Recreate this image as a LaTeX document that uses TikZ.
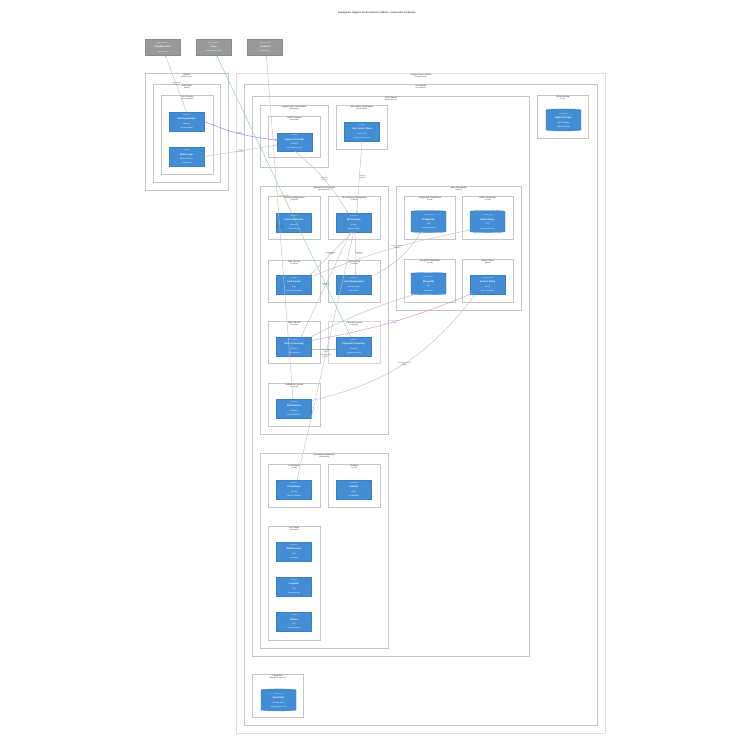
\documentclass[tikz,border=0pt]{standalone}
\usepackage{fontspec}
\setmainfont{Liberation Sans}
\usepackage{tikz}
\usetikzlibrary{shapes.geometric, arrows.meta, calc, positioning}
\definecolor{cfourblue}{HTML}{438DD5}
\definecolor{cfourline}{HTML}{3C7FC0}
\definecolor{extgray}{HTML}{999999}
\definecolor{extline}{HTML}{8A8A8A}
\definecolor{relblue}{HTML}{8080FF}
\definecolor{relgreen}{HTML}{8FCF8F}
\definecolor{relpink}{HTML}{D98FD9}
\newcommand{\stereo}[1]{{\fontsize{4}{4.5}\selectfont «#1»}}
\newcommand{\techtag}[1]{{\fontsize{5.5}{6}\selectfont [#1]}}
\newcommand{\boxdesc}[1]{{\fontsize{5}{5.5}\selectfont #1}}
\newcommand{\zonetype}[1]{{\fontsize{4.5}{5}\selectfont [#1]}}
\tikzstyle{zone} = [rectangle, draw=gray!45, line width=2pt, anchor=north west, inner sep=0pt]
\tikzstyle{zonelabel} = [anchor=north, align=center, font=\fontsize{6}{7.5}\selectfont, text=black!85, inner sep=1.5pt]
\tikzstyle{container} = [rectangle, fill=cfourblue, draw=cfourline, line width=0.6pt, text=white, minimum width=35mm, minimum height=19mm, inner sep=0pt, align=center, font=\fontsize{6.5}{12.5}\selectfont]
\tikzstyle{database} = [cylinder, shape border rotate=90, aspect=0.12, fill=cfourblue, draw=cfourline, line width=0.6pt, text=white, minimum width=35mm, minimum height=22mm, inner sep=0pt, align=center, font=\fontsize{6.5}{12.5}\selectfont]
\tikzstyle{extsys} = [rectangle, fill=extgray, draw=extline, line width=0.6pt, text=white, minimum width=35mm, minimum height=16mm, inner sep=0pt, align=center, font=\fontsize{6}{9.5}\selectfont]
\tikzstyle{rel} = [-{Stealth[length=2mm, width=1.6mm]}, draw=gray!50, line width=1.2pt]
\tikzstyle{rellabel} = [font=\fontsize{4.5}{5}\selectfont, align=center, text=black!70, inner sep=0.5pt]

\begin{document}
\begin{tikzpicture}[x=1mm, y=-1mm, node distance=16mm]
		\useasboundingbox (0,0) rectangle (750,750);
		\fill[white] (0,0) rectangle (750,750);
		\node (title) [font=\fontsize{7}{8}\selectfont] at (377,13) {Deployment Diagram for Ecommerce Platform - Kubernetes Production};
		
		% external systems
		\node (cdn) [extsys] at (162.5,47.5) {\stereo{external\_system}\\\textbf{Cloudflare CDN}\\[1.5mm]\boxdesc{Static assets}};
		\node (stripe) [extsys, right = of cdn] {\stereo{external\_system}\\\textbf{Stripe}\\[1.5mm]\boxdesc{Payment processing}};
		\node (sendgrid) [extsys, right = of stripe] {\stereo{external\_system}\\\textbf{SendGrid}\\[1.5mm]\boxdesc{Email delivery}};
		
		% internet side
		\node (internet) [zone, minimum width=83mm, minimum height=117mm, label={[zonelabel]north:{Internet\\\zonetype{Public Internet}}}] at (145,73) {};
		\node (endusers) [zone, minimum width=67mm, minimum height=98mm, label={[zonelabel]north:{End Users\\\zonetype{Global}}}] at (153,84) {};
		\node (devices) [zone, minimum width=52mm, minimum height=79mm, label={[zonelabel]north:{User Devices\\\zonetype{Browser/Mobile}}}] at (161,95) {};
		\node (webapp) [container] at (186.5,121.5) {\stereo{container}\\\textbf{Web Application}\\\techtag{React}\\\boxdesc{Customer portal}};
		\node (mobileapp) [container, below = of webapp] {\stereo{container}\\\textbf{Mobile App}\\\techtag{React Native}\\\boxdesc{iOS/Android}};
		
		% cloud side
		\node (gcp) [zone, draw=gray!25, minimum width=369mm, minimum height=660mm, label={[zonelabel]north:{Google Cloud Platform\\\zonetype{Cloud Provider}}}] at (236,73) {};
		\node (region) [zone, minimum width=353mm, minimum height=641mm, label={[zonelabel]north:{us-central1\\\zonetype{GCP Region}}}] at (244,84) {};
		\node (gke) [zone, minimum width=277mm, minimum height=560mm, label={[zonelabel]north:{GKE Cluster\\\zonetype{Kubernetes 1.27}}}] at (252,96) {};
		\node (storage) [zone, minimum width=51mm, minimum height=43mm, label={[zonelabel]north:{Cloud Storage\\\zonetype{GCS}}}] at (537,95) {};
		\node (bucket) [database] at (563.5,120.5) {\stereo{storage\_db}\\\textbf{Object Storage}\\\techtag{GCS Bucket}\\\boxdesc{Media \& backups}};
		\node (cloudsql) [zone, minimum width=51mm, minimum height=43mm, label={[zonelabel]north:{Cloud SQL\\\zonetype{Managed PostgreSQL}}}] at (252,674) {};
		\node (clouddb) [database] at (278.5,700.5) {\stereo{container\_db}\\\textbf{Cloud SQL}\\\techtag{PostgreSQL}\\\boxdesc{Managed backup DB}};
		
		\node (ingressns) [zone, minimum width=68mm, minimum height=62mm, label={[zonelabel]north:{ingress-nginx namespace\\\zonetype{Namespace}}}] at (260,105) {};
		\node (nginx) [zone, minimum width=52mm, minimum height=41mm, label={[zonelabel]north:{NGINX Ingress\\\zonetype{DaemonSet}}}] at (268,116) {};
		\node (ingressctl) [container, minimum height=18mm] at (294.5,142) {\stereo{container}\\\textbf{Ingress Controller}\\\techtag{NGINX}\\\boxdesc{Load balancing, SSL}};
		\node (istions) [zone, minimum width=51mm, minimum height=44mm, label={[zonelabel]north:{istio-system namespace\\\zonetype{Service Mesh}}}] at (336,105) {};
		\node (istioctl) [container] at (362,131.5) {\stereo{container}\\\textbf{Istio Control Plane}\\\techtag{Istio 1.18}\\\boxdesc{Service mesh control}};
		
		% application namespace
		\node (appns) [zone, minimum width=128mm, minimum height=248mm, label={[zonelabel]north:{application namespace\\\zonetype{Main Application}}}] at (260,186) {};
		\node (frontenddep) [zone, minimum width=52mm, minimum height=43mm, label={[zonelabel]north:{Frontend Deployment\\\zonetype{3 replicas}}}] at (268,196) {};
		\node (apigwdep) [zone, minimum width=52mm, minimum height=43mm, label={[zonelabel]north:{API Gateway Deployment\\\zonetype{3 replicas}}}] at (328,196) {};
		\node (authdep) [zone, minimum width=52mm, minimum height=42mm, label={[zonelabel]north:{Auth Service\\\zonetype{3 replicas}}}] at (268,260) {};
		\node (userdep) [zone, minimum width=52mm, minimum height=42mm, label={[zonelabel]north:{User Service\\\zonetype{3 replicas}}}] at (328,260) {};
		\node (orderdep) [zone, minimum width=52mm, minimum height=42mm, label={[zonelabel]north:{Order Service\\\zonetype{5 replicas}}}] at (268,321) {};
		\node (paydep) [zone, draw=gray!30, minimum width=52mm, minimum height=42mm, label={[zonelabel]north:{Payment Service\\\zonetype{3 replicas}}}] at (328,321) {};
		\node (notifdep) [zone, minimum width=52mm, minimum height=43mm, label={[zonelabel]north:{Notification Service\\\zonetype{2 replicas}}}] at (268,383) {};
		\node (frontend) [container] at (294,222.5) {\stereo{container}\\\textbf{Frontend Service}\\\techtag{Next.js}\\\boxdesc{SSR web app}};
		\node (apigw) [container, right = 24.5mm of frontend] {\stereo{container}\\\textbf{API Gateway}\\\techtag{Kong}\\\boxdesc{Request routing}};
		\node (auth) [container] at (294,284.5) {\stereo{container}\\\textbf{Auth Service}\\\techtag{Go}\\\boxdesc{JWT authentication}};
		\node (user) [container, right = 24.5mm of auth] {\stereo{container}\\\textbf{User Management}\\\techtag{Java/Spring}\\\boxdesc{User profiles}};
		\node (order) [container] at (294,346.5) {\stereo{container}\\\textbf{Order Processing}\\\techtag{Python}\\\boxdesc{Order lifecycle}};
		\node (payment) [container, right = 24.5mm of order] {\stereo{container}\\\textbf{Payment Processing}\\\techtag{Node.js}\\\boxdesc{Payment handling}};
		\node (notif) [container] at (294,408.5) {\stereo{container}\\\textbf{Notifications}\\\techtag{Python}\\\boxdesc{Email/SMS/Push}};
		
		% data namespace
		\node (datans) [zone, minimum width=125mm, minimum height=124mm, label={[zonelabel]north:{data namespace\\\zonetype{Stateful}}}] at (396,186) {};
		\node (pgset) [zone, minimum width=51mm, minimum height=43mm, label={[zonelabel]north:{PostgreSQL StatefulSet\\\zonetype{3 pods}}}] at (404,196) {};
		\node (redisset) [zone, minimum width=51mm, minimum height=43mm, label={[zonelabel]north:{Redis StatefulSet\\\zonetype{3 pods}}}] at (462,196) {};
		\node (mongoset) [zone, minimum width=51mm, minimum height=43mm, label={[zonelabel]north:{MongoDB StatefulSet\\\zonetype{3 pods}}}] at (404,259) {};
		\node (kafkaset) [zone, minimum width=51mm, minimum height=43mm, label={[zonelabel]north:{Kafka Cluster\\\zonetype{Strimzi}}}] at (462,259) {};
		\node (postgres) [database] at (428.5,222) {\stereo{container\_db}\\\textbf{PostgreSQL}\\\techtag{v15}\\\boxdesc{Primary database}};
		\node (redis) [database] at (487.5,222) {\stereo{container\_db}\\\textbf{Redis Cache}\\\techtag{v7}\\\boxdesc{Sessions \& cache}};
		\node (mongo) [database] at (428.5,284) {\stereo{container\_db}\\\textbf{MongoDB}\\\techtag{v6}\\\boxdesc{Documents}};
		\node (kafka) [container] at (487.5,284.5) {\stereo{container\_queue}\\\textbf{Apache Kafka}\\\techtag{v3.5}\\\boxdesc{Event streaming}};
		
		% monitoring namespace
		\node (monns) [zone, minimum width=128mm, minimum height=195mm, label={[zonelabel]north:{monitoring namespace\\\zonetype{Observability}}}] at (260,453) {};
		\node (promdep) [zone, minimum width=52mm, minimum height=43mm, label={[zonelabel]north:{Prometheus\\\zonetype{2 pods}}}] at (268,464) {};
		\node (grafdep) [zone, minimum width=52mm, minimum height=43mm, label={[zonelabel]north:{Grafana\\\zonetype{1 pod}}}] at (328,464) {};
		\node (elkdep) [zone, minimum width=52mm, minimum height=114mm, label={[zonelabel]north:{ELK Stack\\\zonetype{StatefulSet}}}] at (268,526) {};
		\node (prom) [container] at (294,489.5) {\stereo{container}\\\textbf{Prometheus}\\\techtag{v2.45}\\\boxdesc{Metrics collection}};
		\node (grafana) [container, right = 24.5mm of prom] {\stereo{container}\\\textbf{Grafana}\\\techtag{v10}\\\boxdesc{Dashboards}};
		\node (es) [container] at (294,551.5) {\stereo{container}\\\textbf{Elasticsearch}\\\techtag{v8}\\\boxdesc{Log storage}};
		\node (logstash) [container, below = of es] {\stereo{container}\\\textbf{Logstash}\\\techtag{v8}\\\boxdesc{Log processing}};
		\node (kibana) [container, below = of logstash] {\stereo{container}\\\textbf{Kibana}\\\techtag{v8}\\\boxdesc{Log visualization}};
		
		% relations
		\draw [rel, draw=relblue] (webapp.east) to[bend right=8] node[rellabel, text=relblue!80!black] {Uses\\{[HTTPS]}} ($(ingressctl.west)+(0,-2)$);
		\draw [rel] (mobileapp.east) -- node[rellabel] {Uses\\{[HTTPS]}} ($(ingressctl.west)+(0,3)$);
		\draw [rel] (webapp.north) -- node[rellabel] {Loads assets\\{[HTTPS]}} ($(cdn.south)+(3,0)$);
		\draw [rel] (ingressctl.south) to[bend left=10] node[rellabel] {Routes to\\{[HTTPS]}} ($(apigw.north)+(-6,0)$);
		\draw [rel] (istioctl.south) -- node[rellabel, right] {Secures\\{[mTLS]}} ($(apigw.north)+(3,0)$);
		\draw [rel] ($(apigw.south)+(-1.5,0)$) -- node[rellabel] {Authenticates\\{[gRPC]}} ($(auth.north east)+(-1.5,0)$);
		\draw [rel] ($(apigw.south)+(1.5,0)$) -- node[rellabel, right] {Routes to\\{[HTTP]}} ($(user.north)+(2,0)$);
		\draw [rel] ($(apigw.south)+(-3,0)$) -- node[rellabel] {Routes to\\{[HTTP]}} ($(order.north)+(7,0)$);
		\draw [rel] ($(auth.east)+(0,-8)$) to[bend left=5] node[rellabel, pos=0.55] {Caches sessions\\{[Redis]}} ($(redis.center)+(-17.5,8)$);
		\draw [rel] ($(user.east)+(0,-8)$) to[bend right=15] ($(postgres.south)+(-8,0)$);
		\draw [rel] ($(order.east)+(0,-10)$) to[bend left=5] ($(mongo.south)+(-15,0)$);
		\draw [rel, draw=relpink] ($(order.east)+(0,-6)$) to[bend right=6] node[rellabel, text=relpink!80!black] {Publishes events\\{[Kafka]}} ($(kafka.south west)+(3,-1)$);
		\draw [rel] ($(order.east)+(0,2.5)$) -- node[rellabel, below, pos=0.6] {Processes\\{[gRPC]}} ($(payment.west)+(0,2.5)$);
		\draw [rel, draw=relgreen] ($(payment.north)+(-3,0)$) -- node[rellabel, text=relgreen!70!black] {Charges cards} ($(stripe.south)+(3,0)$);
		\draw [rel] ($(notif.east)+(0,-8)$) to[bend right=20] node[rellabel] {Consumes events\\{[Kafka]}} ($(kafka.south)+(-12,0)$);
		\draw [rel] ($(notif.north)+(-1,0)$) -- node[rellabel] {Sends emails\\{[HTTPS]}} ($(sendgrid.south)+(1.5,0)$);
		\draw [rel] ($(prom.north)+(3,0)$) -- node[rellabel] {Scrapes metrics\\{[HTTP]}} (apigw.south);
\end{tikzpicture}
\end{document}
